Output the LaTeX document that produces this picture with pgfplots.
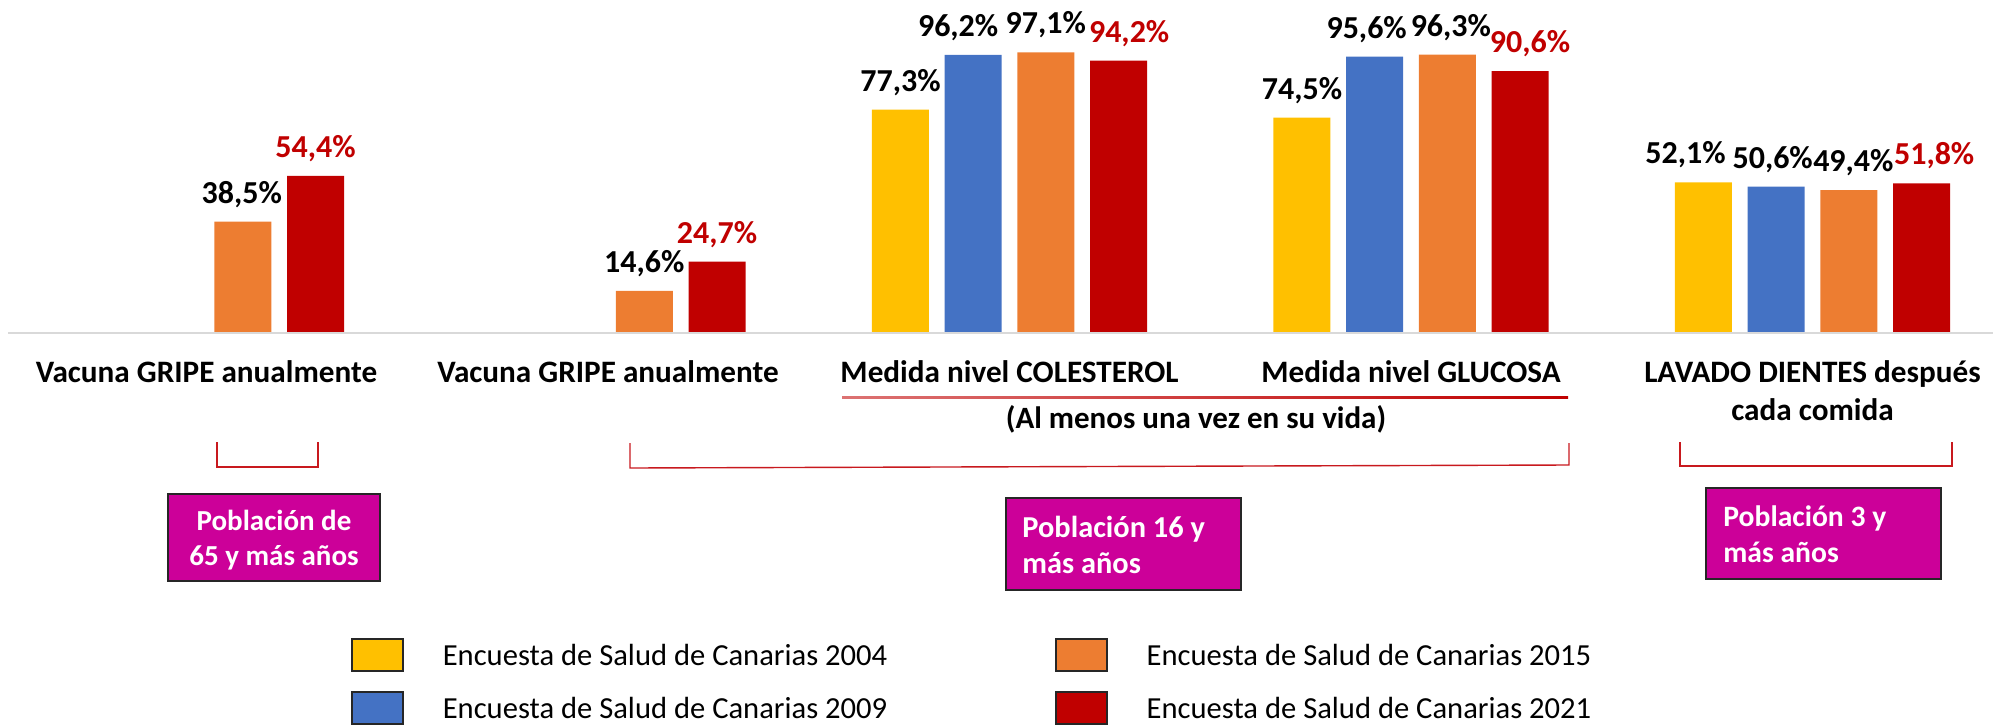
\documentclass[border=0pt]{standalone}
\usepackage{fontspec}
\setmainfont{Carlito}
\usepackage{pgfplots}
\usepackage{pgfplotstable}
\pgfplotsset{compat=1.18}
\definecolor{cYel}{HTML}{FFC000}
\definecolor{cBlu}{HTML}{4472C4}
\definecolor{cOra}{HTML}{ED7D31}
\definecolor{cRed}{HTML}{C00000}
\definecolor{cMag}{HTML}{CC0099}
\definecolor{cBrk}{HTML}{C8191E}
\definecolor{cBase}{HTML}{D9D9D9}
\pgfplotsset{myleg/.style={legend image code/.code={\draw[##1, draw=black!85, line width=0.7pt] (0pt,-3.5pt) rectangle (25.5pt,12.5pt);}},
  shiftlab/.style={visualization depends on={\thisrow{dx} \as \dx}, every node near coord/.append style={xshift=\dx pt}}}
\pgfplotstableread{
x y dx
2 77.3 0
3 74.5 0
4 52.1 -9
}\tabA
\pgfplotstableread{
x y dx
2 96.2 -7.5
3 95.6 -4
4 50.6 -1.75
}\tabB
\pgfplotstableread{
x y dx
0 38.5 -0.5
1 14.6 0
2 97.1 0
3 96.3 1.75
4 49.4 2.25
}\tabC
\pgfplotstableread{
x y dx
0 54.4 0
1 24.7 0
2 94.2 5.3
3 90.6 5
4 51.8 6.3
}\tabD
\begin{document}
\begin{tikzpicture}
\begin{axis}[
  at={(0,0)}, anchor=north west,
  scale only axis, width=996.5pt, height=166.5pt,
  xmin=-0.51432, xmax=4.44956,
  ymin=0, ymax=115.2,
  axis x line*=bottom, axis y line=none,
  x axis line style={draw=none},
  ytick=\empty,
  xtick={0,1,2,3,4},
  xticklabels={Vacuna GRIPE anualmente, Vacuna GRIPE anualmente, Medida nivel COLESTEROL, Medida nivel GLUCOSA, {\begin{tabular}[t]{@{}c@{}}LAVADO DIENTES después\\cada comida\end{tabular}}},
  major tick length=0pt,
  xticklabel style={anchor=base, inner sep=0pt, yshift=-24.5pt, font=\bfseries\fontsize{15.6}{19}\selectfont},
  ybar=7.85pt, bar width=28.5pt,
  clip=false,
  nodes near coords={\pgfmathprintnumber[fixed,fixed zerofill,precision=1,use comma,assume math mode=true]{\pgfplotspointmeta}\%},
  every node near coord/.append style={anchor=base, inner sep=0pt, yshift=9.25pt, font=\bfseries\fontsize{16}{19}\selectfont, text=black},
  legend columns=2, transpose legend,
  legend cell align=left,
  legend style={at={(axis description cs:0.1761,-0.9159)}, anchor=north west, draw=none, fill=none, inner sep=0pt,
    font=\fontsize{15.3}{18}\selectfont, nodes={inner sep=0pt, text depth=0pt}, row sep=9.7pt,
    /tikz/every odd column/.append style={column sep=19.5pt},
    /tikz/every even column/.append style={column sep=84pt, yshift=4.5pt}},
]
\addplot[fill=cYel, draw=none, myleg, shiftlab] table[x=x, y=y] {\tabA};
\addlegendentry{Encuesta de Salud de Canarias 2004}
\addplot[fill=cBlu, draw=none, myleg, shiftlab] table[x=x, y=y] {\tabB};
\addlegendentry{Encuesta de Salud de Canarias 2009}
\addplot[fill=cOra, draw=none, myleg, shiftlab] table[x=x, y=y] {\tabC};
\addlegendentry{Encuesta de Salud de Canarias 2015}
\addplot[fill=cRed, draw=none, myleg, shiftlab, every node near coord/.append style={text=cRed}] table[x=x, y=y] {\tabD};
\addlegendentry{Encuesta de Salud de Canarias 2021}
\end{axis}
\begin{scope}[x=0.5pt, y=-0.5pt]
\draw[cBase, line width=1.2pt] (8,333) -- (1993,333);
% underline of the two measurement categories
\shade[left color=cRed!55!white, right color=cRed] (842,396) rectangle (1568,398.5);
\node[anchor=base, inner sep=0pt, font=\bfseries\fontsize{15.5}{18}\selectfont] at (1196,428) {(Al menos una vez en su vida)};
% brackets
\draw[cBrk, line width=0.7pt] (217,442) -- (217,467) -- (318,467) -- (318,442);
\draw[cBrk, line width=0.7pt] (630,443) -- (630,468) -- (1569,465) -- (1569,443);
\draw[cBrk, line width=0.7pt] (1680,442) -- (1680,466) -- (1952,466) -- (1952,442);
% population boxes
\draw[fill=cMag, draw=black!85, line width=0.8pt] (168,494) rectangle (380,581);
\node[anchor=base, inner sep=0pt, text=white, font=\bfseries\fontsize{14.5}{17}\selectfont] at (274,530) {Población de};
\node[anchor=base, inner sep=0pt, text=white, font=\bfseries\fontsize{14.5}{17}\selectfont] at (274,565) {65 y más años};
\draw[fill=cMag, draw=black!85, line width=0.8pt] (1006,498) rectangle (1241,590);
\node[anchor=base west, inner sep=0pt, text=white, font=\bfseries\fontsize{15.2}{17}\selectfont] at (1022,537) {Población 16 y};
\node[anchor=base west, inner sep=0pt, text=white, font=\bfseries\fontsize{15.2}{17}\selectfont] at (1022,573) {más años};
\draw[fill=cMag, draw=black!85, line width=0.8pt] (1706,488) rectangle (1941,579);
\node[anchor=base west, inner sep=0pt, text=white, font=\bfseries\fontsize{14.8}{17}\selectfont] at (1723,526) {Población 3 y};
\node[anchor=base west, inner sep=0pt, text=white, font=\bfseries\fontsize{14.8}{17}\selectfont] at (1723,562) {más años};
\pgfresetboundingbox
\path[use as bounding box] (0,0) rectangle (1993,724);
\end{scope}
\end{tikzpicture}
\end{document}
